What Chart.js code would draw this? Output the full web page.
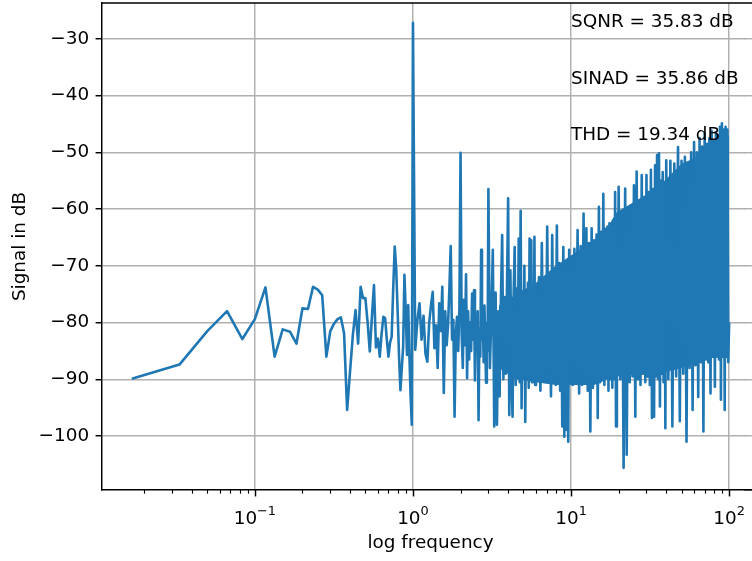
<!DOCTYPE html>
<html>
<head>
<meta charset="utf-8">
<title>Spectrum</title>
<script src="https://cdn.jsdelivr.net/npm/chart.js@4.4.0/dist/chart.umd.min.js"></script>
<style>
  html, body { margin: 0; padding: 0; background: #fff; overflow: hidden; }
  canvas { display: block; }
</style>
</head>
<body>
<canvas id="spectrum" width="752" height="561"></canvas>
<script>
(function () {
  'use strict';

  // FFT bins are 1/60 Hz apart
  const BINS_PER_HZ = 60;

  // bins 1..59, one value per bin (dB)
  const lowBinsDb = [
    -89.9, -87.4, -81.5, -78.0, -82.9, -79.4, -73.8, -86.0, -81.2, -81.6,
    -83.7, -77.5, -77.6, -73.7, -74.2, -75.2, -86.0, -81.5, -80.2, -79.4,
    -79.1, -81.9, -95.4, -88.6, -82.2, -77.8, -83.7, -73.7, -75.7, -75.7,
    -80.0, -85.1, -79.0, -73.4, -84.4, -82.8, -86.0, -82.0, -79.0, -79.2,
    -83.0, -86.0, -83.5, -82.5, -74.0, -66.6, -70.5, -78.0, -86.0, -91.9,
    -88.0, -84.4, -71.6, -78.0, -85.7, -76.9, -86.0, -93.0, -98.0
  ];

  // from 1 Hz up the trace is decimated: first bin and bin step of each run
  const segFirstBin = [60, 122, 184, 368, 615, 1230, 2475];
  const segBinStep = [2, 2, 4, 8, 15, 30, 75];

  const seg1Db = [
    -27.2, -84.8, -79.6, -76.6, -83.0, -78.8, -85.5, -86.9, -80.0, -77.0,
    -74.6, -84.5, -80.5, -88.0, -76.6, -81.5, -73.7, -92.4, -78.0, -84.0,
    -80.5, -74.0, -66.5, -83.0, -79.5, -96.6, -82.0, -79.0, -85.0, -77.5,
    -50.1
  ];
  const seg2Db = [
    -82.0, -88.0, -76.0, -84.0, -71.5, -89.8, -78.0, -86.5, -80.0, -85.0,
    -74.9, -83.0, -74.3, -90.2, -79.0, -84.0, -78.0, -97.2, -81.0, -86.0,
    -67.2, -83.0, -79.0, -87.0, -77.0, -84.0, -90.6, -80.0, -85.0, -56.5
  ];
  const seg3Db = [
    -88.0, -79.0, -67.2, -98.3, -74.7, -98.0, -78.0, -93.0, -76.0, -64.6,
    -90.0, -75.5, -89.0, -74.0, -58.1, -96.3, -70.8, -90.0, -96.6, -75.0,
    -66.7, -91.0, -74.0, -89.5, -65.2, -90.5, -60.3, -95.1, -74.5, -89.0,
    -70.0, -97.5, -75.0, -90.0, -73.0, -91.5, -65.2, -89.0, -65.5, -90.5,
    -73.5, -88.0, -64.9, -91.0, -74.0
  ];
  const seg4Db = [
    -90.0, -72.0, -92.0, -66.0, -89.5, -72.5, -90.5, -63.1, -88.0, -71.5,
    -93.0, -64.6, -90.0, -70.5, -91.0, -62.9, -89.5, -69.5, -92.0, -71.0,
    -98.3, -66.7, -100.1, -70.5, -98.9, -69.0, -101.0, -67.2, -90.0, -70.0
  ];
  const seg5Db = [
    -91.0, -67.0, -90.0, -63.7, -92.5, -66.5, -91.0, -60.8, -90.5, -63.4,
    -92.0, -66.0, -99.2, -63.4, -91.5, -65.5, -89.5, -64.5, -96.8, -59.6,
    -90.5, -64.0, -89.0, -57.3, -91.0, -63.5, -89.5, -63.1, -92.0, -62.5,
    -90.0, -63.0, -91.5, -62.0, -90.0, -57.0, -98.3, -61.5, -89.0, -56.1
  ];
  const seg6Db = [
    -90.0, -61.5, -105.6, -56.4, -103.3, -60.5, -90.5, -59.5, -89.5, -55.8,
    -96.6, -53.4, -90.0, -58.5, -91.0, -54.0, -89.0, -58.0, -90.5, -54.0,
    -89.5, -57.0, -91.0, -53.1, -96.8, -56.5, -96.6, -52.3, -89.5, -50.5,
    -90.0, -50.2, -94.8, -55.0, -89.0, -53.5, -90.5, -56.0, -98.6, -51.4
  ];
  const seg7Db = [
    -90.0, -51.5, -98.3, -52.0, -89.5, -49.1, -97.4, -51.5, -89.0, -50.8,
    -101.0, -52.0, -88.0, -50.0, -95.4, -48.2, -87.5, -50.0, -93.1, -47.5,
    -87.0, -49.0, -99.2, -46.7, -86.5, -48.5, -87.0, -47.5, -92.5, -46.2,
    -86.0, -48.0, -91.3, -46.5, -86.0, -47.0, -86.5, -45.5, -93.6, -44.9,
    -86.0, -46.0, -95.4, -45.5, -86.0, -46.0, -87.0, -80.0
  ];
  const segDb = [seg1Db, seg2Db, seg3Db, seg4Db, seg5Db, seg6Db, seg7Db];

  // the densely packed part of the trace (above ~3.5 Hz) fills solid
  // between these two edges
  const bandHz = [3.5, 4.5, 6, 8, 10.5, 14, 17, 19.5, 27.7, 36, 50, 67, 89, 100];
  const bandTopDb = [-77, -75, -73, -70, -67.8, -65.5, -63.2, -60.5, -58, -56, -52, -50.5, -47.8, -47];
  const bandBottomDb = [-88, -90, -90.5, -91, -91, -91, -90, -89.5, -89, -89, -88, -86.5, -86, -86];

  // axes
  const xMajorTicks = [0.1, 1, 10, 100];
  const xTickExponents = ['\u22121', '0', '1', '2'];
  const xMinorDecades = [0.01, 0.1, 1, 10];
  const xMinorMults = [2, 3, 4, 5, 6, 7, 8, 9];
  const yTicks = [-100, -90, -80, -70, -60, -50, -40, -30];
  const X_MIN = 0.010789, X_MAX = 154.5;
  const Y_MIN = -109.5, Y_MAX = -23.7;

  // metric labels, anchored at x = 10
  const notes = ['SQNR = 35.83 dB', 'SINAD = 35.86 dB', 'THD = 19.34 dB'];
  const noteX = 10;
  const noteY = [-27.9, -37.9, -47.9];

  // 1 pt in px
  const PT = 132.5 / 72;
  const FONT_PX = 10 * PT;
  const FAMILY = 'DejaVu Sans';
  const LINE_BLUE = '#1f77b4';
  const GRID_GREY = '#b0b0b0';
  // the plot box runs a little past the right edge of the canvas
  const PLOT_WIDTH = 657;
  // strip at the canvas edge where chart.js leaves a stray vertical rule
  const EDGE_STRIP = 7;

  const points = [];
  lowBinsDb.forEach(function (db, i) {
    points.push({ x: (i + 1) / BINS_PER_HZ, y: db });
  });
  segDb.forEach(function (vals, s) {
    vals.forEach(function (db, i) {
      points.push({ x: (segFirstBin[s] + i * segBinStep[s]) / BINS_PER_HZ, y: db });
    });
  });

  const bandTop = bandHz.map(function (f, i) { return { x: f, y: bandTopDb[i] }; });
  const bandBottom = bandHz.map(function (f, i) { return { x: f, y: bandBottomDb[i] }; });

  const widenPlot = {
    id: 'widenPlot',
    afterLayout: function (chart) {
      const xs = chart.scales.x;
      xs.right = xs.left + PLOT_WIDTH;
      xs.width = PLOT_WIDTH;
      xs.configure();
    }
  };

  function alignPx(p, w) {
    return Math.round(p - w / 2) + w / 2;
  }

  // top spine, x ticks with 10^n labels, metric text
  const axesExtras = {
    id: 'axesExtras',
    afterDraw: function (chart) {
      const ctx = chart.ctx;
      const area = chart.chartArea;
      const xs = chart.scales.x;
      const ys = chart.scales.y;
      const lw = 0.8 * PT;
      const x0Strip = chart.width - EDGE_STRIP;
      ctx.save();

      // tidy the right edge: blank it, then carry the grid and spines through
      ctx.fillStyle = '#fff';
      ctx.fillRect(x0Strip, area.top + 1.5, EDGE_STRIP, area.bottom - area.top - 3);
      ctx.strokeStyle = GRID_GREY;
      ctx.lineWidth = lw;
      yTicks.forEach(function (v) {
        const py = alignPx(ys.getPixelForValue(v), lw);
        ctx.beginPath();
        ctx.moveTo(x0Strip - 1, py);
        ctx.lineTo(chart.width, py);
        ctx.stroke();
      });

      ctx.strokeStyle = '#000';
      ctx.beginPath();
      ctx.moveTo(area.left, area.top);
      ctx.lineTo(chart.width, area.top);
      ctx.stroke();
      const by = alignPx(area.bottom, lw);
      ctx.beginPath();
      ctx.moveTo(x0Strip - 1, by);
      ctx.lineTo(chart.width, by);
      ctx.stroke();

      // major ticks
      xMajorTicks.forEach(function (v) {
        const px = Math.round(xs.getPixelForValue(v)) + 0.5;
        ctx.beginPath();
        ctx.moveTo(px, area.bottom);
        ctx.lineTo(px, area.bottom + 3.5 * PT);
        ctx.stroke();
      });
      // minor ticks
      ctx.lineWidth = 0.6 * PT;
      xMinorDecades.forEach(function (d) {
        xMinorMults.forEach(function (m) {
          const v = d * m;
          if (v < X_MIN || v > X_MAX) return;
          const px = Math.round(xs.getPixelForValue(v)) + 0.5;
          ctx.beginPath();
          ctx.moveTo(px, area.bottom);
          ctx.lineTo(px, area.bottom + 2 * PT);
          ctx.stroke();
        });
      });

      // 10^n labels
      const baseFont = FONT_PX + 'px "' + FAMILY + '"';
      const supFont = (FONT_PX * 0.7) + 'px "' + FAMILY + '"';
      const baseY = area.bottom + 34;
      ctx.fillStyle = '#000';
      ctx.textAlign = 'left';
      ctx.textBaseline = 'alphabetic';
      xMajorTicks.forEach(function (v, i) {
        ctx.font = baseFont;
        const w1 = ctx.measureText('10').width;
        ctx.font = supFont;
        const w2 = ctx.measureText(xTickExponents[i]).width;
        const x0 = xs.getPixelForValue(v) - (w1 + w2) / 2;
        ctx.font = baseFont;
        ctx.fillText('10', x0, baseY);
        ctx.font = supFont;
        ctx.fillText(xTickExponents[i], x0 + w1, baseY - 9);
      });

      ctx.font = baseFont;
      notes.forEach(function (t, i) {
        ctx.fillText(t, xs.getPixelForValue(noteX), ys.getPixelForValue(noteY[i]));
      });
      ctx.restore();
    }
  };

  new Chart(document.getElementById('spectrum').getContext('2d'), {
    type: 'line',
    data: {
      datasets: [{
        data: points,
        borderColor: LINE_BLUE,
        borderWidth: 2.6,
        borderJoinStyle: 'round',
        pointRadius: 0,
        tension: 0,
        fill: false,
        order: 0,
      }, {
        data: bandTop,
        borderColor: LINE_BLUE,
        borderWidth: 0,
        pointRadius: 0,
        backgroundColor: LINE_BLUE,
        fill: '+1',
        order: 1,
      }, {
        data: bandBottom,
        borderColor: LINE_BLUE,
        borderWidth: 0,
        pointRadius: 0,
        fill: false,
        order: 1,
      }],
    },
    options: {
      responsive: false,
      animation: false,
      events: [],
      parsing: false,
      normalized: true,
      layout: { padding: { top: 3, right: 0, left: 0, bottom: 0 } },
      plugins: { legend: { display: false }, tooltip: { enabled: false } },
      scales: {
        x: {
          type: 'logarithmic',
          min: X_MIN,
          max: X_MAX,
          afterBuildTicks: function (scale) {
            scale.ticks = xMajorTicks.map(function (v) { return { value: v, major: true }; });
          },
          afterFit: function (scale) {
            scale.height = 71;
            scale.paddingLeft = 0;
            scale.paddingRight = 0;
          },
          ticks: { display: false },
          grid: { color: GRID_GREY, lineWidth: 0.8 * PT, drawTicks: false },
          border: { display: true, color: '#000', width: 0.8 * PT },
          title: {
            display: true,
            text: 'log frequency',
            color: '#000',
            font: { family: FAMILY, size: FONT_PX },
            padding: { top: 0, bottom: 7 },
          },
        },
        y: {
          type: 'linear',
          min: Y_MIN,
          max: Y_MAX,
          afterBuildTicks: function (scale) {
            scale.ticks = yTicks.map(function (v) { return { value: v }; });
          },
          afterFit: function (scale) {
            scale.width = 102;
            scale.paddingTop = 0;
            scale.paddingBottom = 0;
          },
          ticks: {
            color: '#000',
            padding: 3.5 * PT,
            font: { family: FAMILY, size: FONT_PX },
            callback: function (v) { return v < 0 ? '\u2212' + Math.abs(v) : String(v); },
          },
          grid: {
            color: GRID_GREY,
            lineWidth: 0.8 * PT,
            tickColor: '#000',
            tickWidth: 0.8 * PT,
            tickLength: 3.5 * PT,
          },
          border: { display: true, color: '#000', width: 0.8 * PT },
          title: {
            display: true,
            text: 'Signal in dB',
            color: '#000',
            font: { family: FAMILY, size: FONT_PX },
            padding: { top: 9, bottom: 0 },
          },
        },
      },
    },
    plugins: [widenPlot, axesExtras],
  });
})();
</script>
</body>
</html>
